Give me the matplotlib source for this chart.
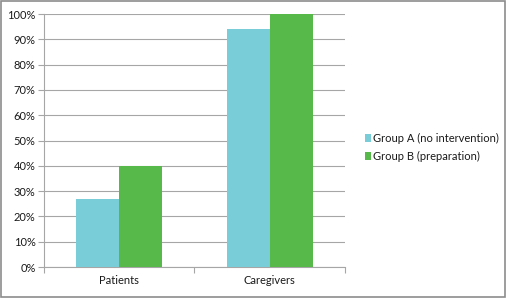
import matplotlib
matplotlib.use("Agg")
import matplotlib.pyplot as plt
from matplotlib.patches import Rectangle
import numpy as np

categories = ["Patients", "Caregivers"]
series_names = ["Group A (no intervention)", "Group B (preparation)"]
group_a = [27, 94]
group_b = [40, 100]
yticks = [0, 10, 20, 30, 40, 50, 60, 70, 80, 90, 100]
colors = ["#78CDD8", "#56B94A"]

plt.rcParams['font.family'] = ['Lato', 'DejaVu Sans']

fig = plt.figure(figsize=(5.07, 2.98), dpi=100)
ax = fig.add_axes([0.0868, 0.104, 0.5934, 0.849])

x = np.arange(len(categories))
w = 0.286
ax.bar(x - w/2, group_a, w, color=colors[0], label=series_names[0], zorder=3)
ax.bar(x + w/2, group_b, w, color=colors[1], label=series_names[1], zorder=3)

ax.set_xlim(-0.5, 1.5)
ax.set_ylim(0, 100)
ax.set_yticks(yticks)
ax.set_yticklabels([f"{t}%" for t in yticks], fontsize=8, color="#1a1a1a")
ax.yaxis.grid(True, color="#A6A6A6", linewidth=0.8, zorder=0)
ax.set_axisbelow(True)

ax.set_xticks([-0.5, 0.5, 1.5])
ax.set_xticklabels([])
ax.set_xticks(x, minor=True)
ax.set_xticklabels(categories, minor=True, fontsize=8, color="#1a1a1a")
ax.tick_params(axis='x', which='minor', length=0, pad=6)
ax.tick_params(axis='x', which='major', length=4, color="#A6A6A6", width=0.8)
ax.tick_params(axis='y', length=4, color="#A6A6A6", width=0.8, pad=2)

for s in ["top", "right"]:
    ax.spines[s].set_visible(False)
for s in ["left", "bottom"]:
    ax.spines[s].set_color("#A6A6A6")
    ax.spines[s].set_linewidth(0.8)

leg = fig.legend(loc="center left", bbox_to_anchor=(0.719, 0.505), frameon=False,
                 fontsize=8, handlelength=0.6, handleheight=0.7, handletextpad=0.2,
                 labelspacing=0.6, borderaxespad=0, borderpad=0)
for t in leg.get_texts():
    t.set_color("#1a1a1a")

fig.patches.append(Rectangle((0.002, 0.003), 0.995, 0.993, transform=fig.transFigure,
                             fill=False, edgecolor="#8C8C8C", linewidth=1.2))

fig.savefig("out.png", dpi=100)
